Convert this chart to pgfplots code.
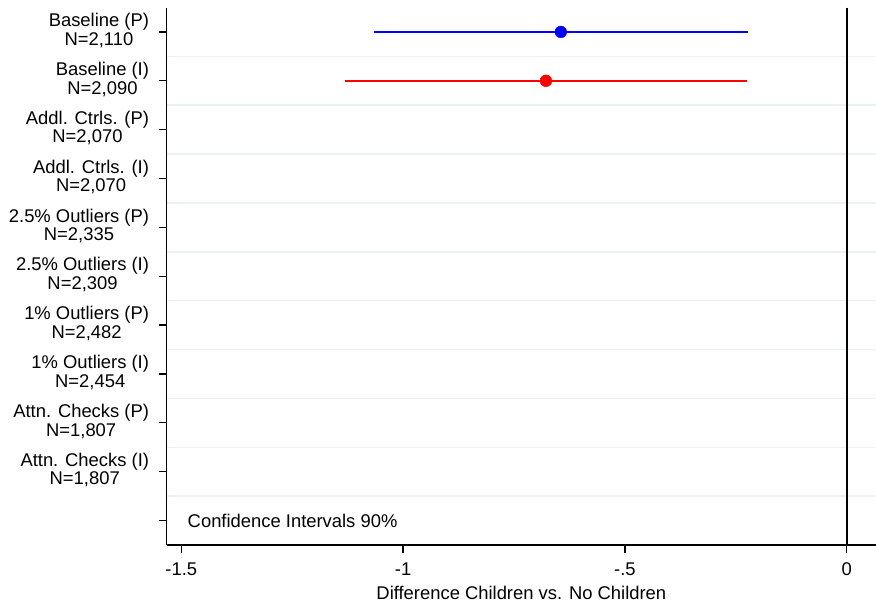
\documentclass[border=0pt]{standalone}
\usepackage{pgfplots}
\pgfplotsset{compat=1.18}
\usepackage{fontspec}
\setmainfont{Liberation Sans}
\usetikzlibrary{calc}
\definecolor{gridc}{HTML}{EAF2F3}
\begin{document}
\fontsize{18.4bp}{18.5bp}\selectfont
\begin{tikzpicture}
\begin{axis}[
  name=ax,
  scale only axis, width=709.3bp, height=537.5bp,
  xmin=-1.533, xmax=0.066, ymin=0.5, ymax=11.5, y dir=reverse,
  axis lines*=left,
  axis line style={black, line width=1.5bp},
  xtick={-1.5,-1,-0.5,0}, xticklabels={-1.5,-1,-.5,0},
  ytick={1,...,11},
  yticklabels={{Baseline (P)\\N=2,110},{Baseline (I)\\N=2,090},{Addl. Ctrls. (P)\\N=2,070},{Addl. Ctrls. (I)\\N=2,070},{2.5\% Outliers (P)\\N=2,335},{2.5\% Outliers (I)\\N=2,309},{1\% Outliers (P)\\N=2,482},{1\% Outliers (I)\\N=2,454},{Attn. Checks (P)\\N=1,807},{Attn. Checks (I)\\N=1,807},{}},
  tick align=outside, major tick length=8bp,
  major tick style={black, line width=1.3bp},
  minor ytick={1.5,2.5,...,10.5}, yminorgrids, minor tick length=0pt,
  minor grid style={gridc, line width=1.5bp},
  ymajorgrids=false, xmajorgrids=false,
  yticklabel style={align=center, anchor=east, inner sep=0pt, xshift=-9.5bp, yshift=1.5bp, font=\fontsize{18.4bp}{18.5bp}\selectfont},
  xticklabel style={anchor=north, inner sep=0pt, yshift=-9.5bp, font=\fontsize{18.4bp}{18.5bp}\selectfont},
  xlabel={Difference Children vs. No Children},
  xlabel style={at={(axis description cs:0.5,0)}, anchor=base, yshift=-54.5bp, inner sep=0pt, font=\fontsize{18.4bp}{18.5bp}\selectfont},
  clip=false,
]
\addplot[black, line width=1.6bp, no marks, forget plot] coordinates {(0,0.5) (0,11.5)};
\addplot[blue, line width=1.6bp, no marks] coordinates {(-1.0656,1) (-0.2234,1)};
\addplot[blue, only marks, mark=*, mark size=5.9bp, mark options={fill=blue, draw=blue}] coordinates {(-0.6445,1)};
\addplot[red, line width=1.6bp, no marks] coordinates {(-1.1317,2) (-0.2256,2)};
\addplot[red, only marks, mark=*, mark size=5.9bp, mark options={fill=red, draw=red}] coordinates {(-0.678,2)};
\node[anchor=west, inner sep=0pt, font=\fontsize{18.4bp}{18.5bp}\selectfont] at (axis cs:-1.486,11) {Confidence Intervals 90\%};
\end{axis}
\pgfresetboundingbox
\path ($(ax.south west)+(-166.7bp,-57.5bp)$) rectangle ($(ax.north east)+(0,7.5bp)$);
\end{tikzpicture}
\end{document}
